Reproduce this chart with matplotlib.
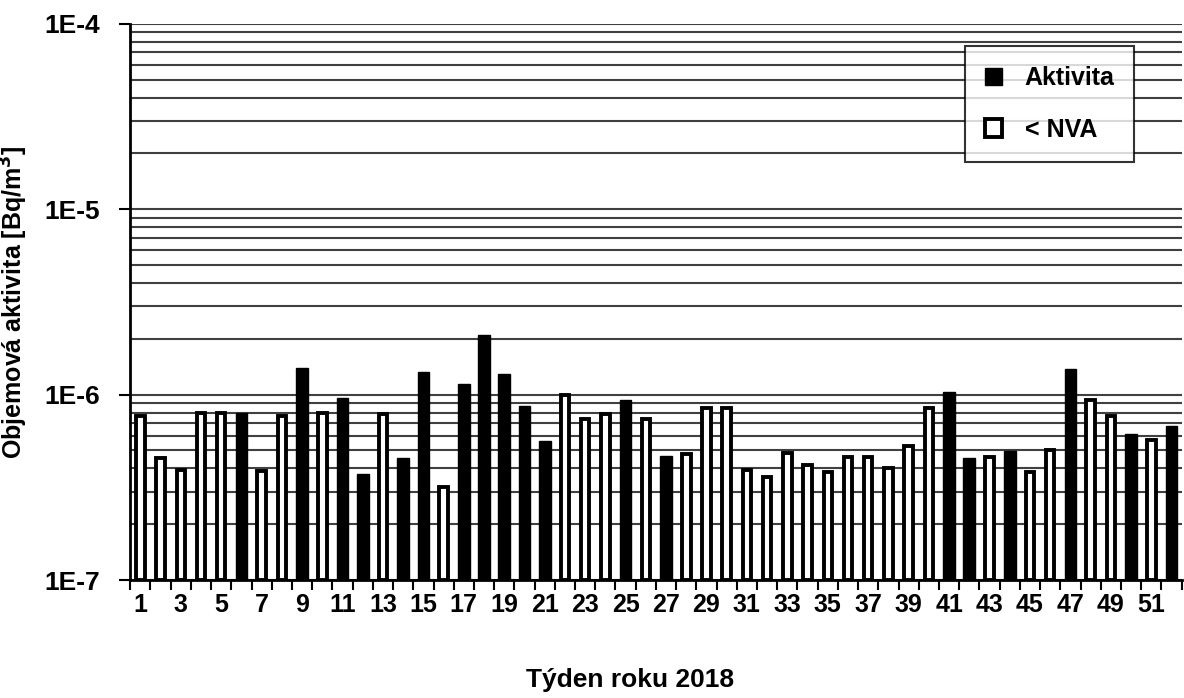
import matplotlib
matplotlib.use("Agg")
import matplotlib.pyplot as plt
from matplotlib.patches import Patch
from matplotlib.ticker import LogLocator, FixedLocator, NullFormatter

plt.rcParams['font.family'] = ['Liberation Sans', 'DejaVu Sans']
plt.rcParams['font.weight'] = 'bold'

weeks = list(range(1, 53))
values = [7.7e-7, 4.55e-7, 3.94e-7, 7.96e-7, 7.96e-7, 8.0e-7, 3.85e-7, 7.7e-7,
          1.39e-6, 7.96e-7, 9.6e-7, 3.74e-7, 7.9e-7, 4.55e-7, 1.33e-6, 3.16e-7,
          1.14e-6, 2.09e-6, 1.29e-6, 8.7e-7, 5.6e-7, 1.0e-6, 7.36e-7, 7.9e-7,
          9.3e-7, 7.36e-7, 4.67e-7, 4.78e-7, 8.5e-7, 8.5e-7, 3.93e-7, 3.59e-7,
          4.86e-7, 4.19e-7, 3.82e-7, 4.63e-7, 4.63e-7, 4.04e-7, 5.26e-7, 8.5e-7,
          1.03e-6, 4.55e-7, 4.63e-7, 4.94e-7, 3.82e-7, 5.03e-7, 1.38e-6, 9.4e-7,
          7.67e-7, 6.13e-7, 5.71e-7, 6.78e-7]
measured_weeks = [6, 9, 11, 12, 14, 15, 17, 18, 19, 20, 21, 25, 27, 41, 42, 44, 47, 50, 52]
y_min = 1e-7

fig = plt.figure(figsize=(11.84, 6.98), dpi=100)
ax = fig.add_axes([0.110, 0.169, 0.888, 0.797])

for w, v in zip(weeks, values):
    if w in measured_weeks:
        ax.bar(w, v - y_min, width=0.58, bottom=y_min, color='black', edgecolor='black', linewidth=1, zorder=3)
    else:
        ax.bar(w, v - y_min, width=0.42, bottom=y_min, color='white', edgecolor='black', linewidth=2.8, zorder=3)

ax.set_yscale('log')
ax.set_ylim(1e-7, 1e-4)
ax.set_xlim(0.5, 52.5)

ax.yaxis.set_minor_locator(LogLocator(base=10, subs=range(2, 10)))
ax.yaxis.set_minor_formatter(NullFormatter())
ax.set_yticks([1e-7, 1e-6, 1e-5, 1e-4])
ax.set_yticklabels(['1E-7', '1E-6', '1E-5', '1E-4'], fontsize=19, fontweight='bold')
ax.grid(True, which='both', axis='y', color='#404040', linewidth=1.5, zorder=0)
ax.tick_params(axis='y', which='major', direction='out', length=8, width=1.5, pad=14)
ax.tick_params(axis='y', which='minor', length=0)

ax.set_xticks(weeks[::2])
ax.set_xticklabels([str(w) for w in weeks[::2]], fontsize=18, fontweight='bold')
ax.xaxis.set_minor_locator(FixedLocator([w + 0.5 for w in range(0, 53)]))
ax.tick_params(axis='x', which='major', length=0, pad=9)
ax.tick_params(axis='x', which='minor', direction='out', length=7, width=1.5)

for side in ['left', 'bottom']:
    ax.spines[side].set_linewidth(2)
ax.spines['top'].set_visible(False)
ax.spines['right'].set_visible(False)

ax.set_ylabel('Objemová aktivita [Bq/m$^\\mathbf{3}$]', fontsize=18, fontweight='bold', labelpad=10)
fig.text(0.532, 0.026, 'Týden roku 2018', fontsize=19, fontweight='bold', ha='center', va='center')

handles = [Patch(facecolor='black', edgecolor='black', label='Aktivita'),
           Patch(facecolor='white', edgecolor='black', linewidth=2.8, label='< NVA')]
leg = ax.legend(handles=handles, loc='upper right', bbox_to_anchor=(0.967, 0.982),
                fontsize=18, frameon=True, fancybox=False, edgecolor='black',
                handlelength=0.7, handleheight=0.7, labelspacing=1.1,
                borderpad=0.8, handletextpad=0.9)
leg.get_frame().set_linewidth(1.5)
for t in leg.get_texts():
    t.set_fontweight('bold')

fig.savefig('out.png', dpi=100)
